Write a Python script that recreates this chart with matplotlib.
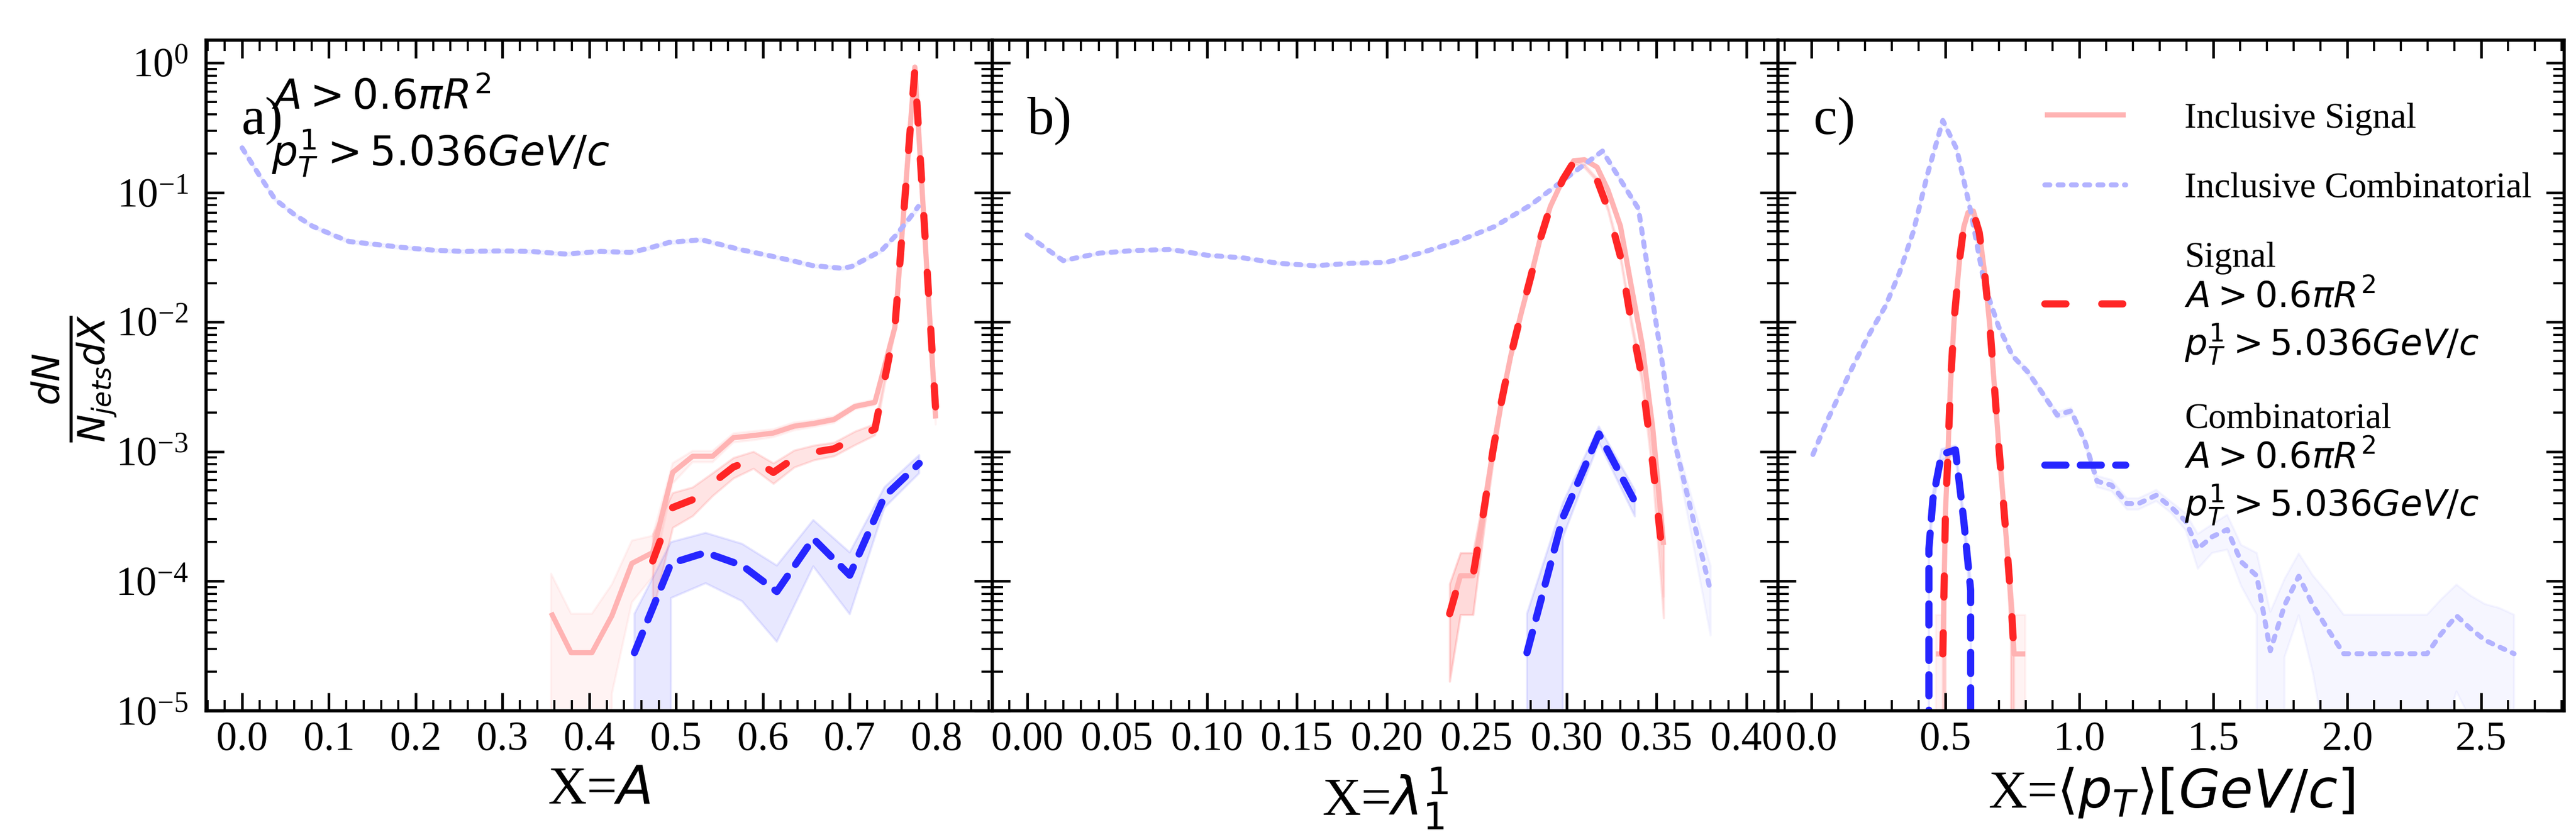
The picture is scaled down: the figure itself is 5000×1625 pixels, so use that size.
import numpy as np
import matplotlib
matplotlib.use("Agg")
import matplotlib.pyplot as plt
from matplotlib.ticker import MultipleLocator, FormatStrFormatter

plt.rcParams['font.family'] = ['Liberation Serif', 'DejaVu Serif']
plt.rcParams['mathtext.fontset'] = 'dejavusans'

nan = np.nan

# ---------------- panel a) X = A ----------------
a_x_sig = [0.356, 0.379, 0.403, 0.426, 0.449, 0.473, 0.496, 0.519, 0.542, 0.566,
           0.589, 0.612, 0.636, 0.659, 0.682, 0.706, 0.729, 0.752, 0.775, 0.799]
a_inc_sig = [5.7e-5, 2.8e-5, 2.8e-5, 5.4e-5, 1.37e-4, 1.66e-4, 6.9e-4, 9.2e-4, 9.2e-4, 1.28e-3,
             1.33e-3, 1.39e-3, 1.57e-3, 1.65e-3, 1.77e-3, 2.23e-3, 2.4e-3, 9.1e-3, 0.93, 1.8e-3]
a_inc_sig_err = [1.0, 1.0, 1.0, 0.75, 0.5, 0.35, 0.18, 0.1, 0.1, 0.08,
                 0.08, 0.07, 0.07, 0.06, 0.06, 0.05, 0.05, 0.04, 0.01, 0.1]
a_sig = [nan, nan, nan, nan, nan, 1.43e-4, 3.7e-4, 4.25e-4, 5.7e-4, 7.6e-4,
         8.7e-4, 6.9e-4, 8.9e-4, 9.9e-4, 1.05e-3, 1.28e-3, 1.49e-3, 9.1e-3, 0.89, 2.1e-3]
a_sig_err = [nan, nan, nan, nan, nan, 0.6, 0.3, 0.25, 0.2, 0.18,
             0.15, 0.18, 0.15, 0.13, 0.12, 0.12, 0.1, 0.05, 0.01, 0.08]
a_x_comb = [0.452, 0.494, 0.534, 0.576, 0.616, 0.658, 0.700, 0.740, 0.780]
a_comb = [2.8e-5, 1.37e-4, 1.66e-4, 1.32e-4, 8.3e-5, 2.13e-4, 1.11e-4, 4.5e-4, 8.1e-4]
a_comb_err = [1.0, 0.46, 0.42, 0.47, 0.59, 0.39, 0.5, 0.18, 0.16]
a_x_inc_comb = [0.0, 0.021, 0.038, 0.061, 0.081, 0.106, 0.123, 0.150, 0.186, 0.220,
                0.254, 0.299, 0.333, 0.373, 0.413, 0.447, 0.464, 0.492, 0.529, 0.549,
                0.572, 0.606, 0.637, 0.657, 0.691, 0.702, 0.719, 0.736, 0.753, 0.768, 0.779]
a_inc_comb = [0.221, 0.132, 0.0885, 0.067, 0.055, 0.0466, 0.0419, 0.040, 0.0376, 0.0359,
              0.0351, 0.0354, 0.0351, 0.0335, 0.0351, 0.0345, 0.0365, 0.0412, 0.0432, 0.040,
              0.0365, 0.0327, 0.0294, 0.0273, 0.026, 0.0268, 0.0308, 0.0354, 0.0466, 0.0622, 0.078]
a_inc_comb_err = [0.05] + [0.03] * 29 + [0.06]

# ---------------- panel b) X = lambda_1^1 ----------------
b_x_sig = [0.235, 0.241, 0.248, 0.254, 0.259, 0.264, 0.269, 0.275, 0.280, 0.285, 0.291,
           0.298, 0.304, 0.310, 0.317, 0.323, 0.330, 0.336, 0.342, 0.348, 0.354]
b_inc_sig = [5.6e-5, 1.1e-4, 1.1e-4, 3.5e-4, 1.0e-3, 2.5e-3, 5.5e-3, 1.2e-2, 2.2e-2, 4.2e-2, 7.8e-2,
             0.126, 0.176, 0.179, 0.157, 0.105, 0.055, 0.019, 6.8e-3, 1.5e-3, 1.9e-4]
b_sig = [5.6e-5, 1.1e-4, 1.1e-4, 3.5e-4, 1.0e-3, 2.5e-3, 5.5e-3, 1.2e-2, 2.2e-2, 4.2e-2, 7.8e-2,
         0.126, 0.172, 0.16, 0.125, 0.075, 0.032, 0.010, 3.7e-3, 8e-4, 1.3e-4]
b_sig_err = [0.7, 0.5, 0.5, 0.3, 0.2, 0.12, 0.08, 0.06, 0.05, 0.04, 0.03,
             0.03, 0.03, 0.03, 0.03, 0.04, 0.05, 0.07, 0.1, 0.2, 0.6]
b_x_comb = [0.278, 0.298, 0.318, 0.338]
b_comb = [2.8e-5, 3.1e-4, 1.37e-3, 4.1e-4]
b_comb_err = [1.0, 0.3, 0.14, 0.23]
b_x_inc_comb = [0.00, 0.02, 0.04, 0.06, 0.08, 0.10, 0.12, 0.14, 0.16, 0.18,
                0.20, 0.22, 0.24, 0.26, 0.28, 0.30, 0.32, 0.34, 0.36, 0.38]
b_inc_comb = [0.047, 0.0298, 0.034, 0.0357, 0.0363, 0.0328, 0.0313, 0.0284, 0.0272, 0.0284,
              0.0289, 0.0345, 0.0423, 0.0546, 0.080, 0.13, 0.209, 0.075, 1.2e-3, 8.5e-5]
b_inc_comb_err = [0.02] * 17 + [0.04, 0.1, 0.55]

# ---------------- panel c) X = <pT> ----------------
c_x_sig = [0.464, 0.490, 0.500, 0.508, 0.518, 0.532, 0.553, 0.568, 0.584, 0.604,
           0.626, 0.646, 0.667, 0.683, 0.699, 0.714, 0.730, 0.745, 0.756, 0.798]
c_inc_sig = [2.74e-5, 2.74e-5, 3.5e-4, 8.3e-4, 3.1e-3, 0.0103, 0.031, 0.054, 0.070, 0.072,
             0.050, 0.024, 8.6e-3, 3.1e-3, 1.1e-3, 4.6e-4, 1.77e-4, 6.8e-5, 2.74e-5, 2.74e-5]
c_sig = [nan, 2.74e-5, 3.5e-4, 8.3e-4, 3.1e-3, 0.0103, 0.031, 0.054, 0.068, 0.070,
         0.049, 0.024, 8.6e-3, 3.1e-3, 1.1e-3, 4.6e-4, 1.77e-4, 6.8e-5, 2.74e-5, nan]
c_sig_err = [1.0, 1.0, 0.3, 0.2, 0.1, 0.06, 0.04, 0.03, 0.03, 0.03,
             0.03, 0.03, 0.04, 0.06, 0.1, 0.15, 0.25, 0.5, 1.0, 1.0]
c_x_comb = [0.432, 0.438, 0.453, 0.485, 0.537, 0.568, 0.594, 0.601]
c_comb = [0.0, 1.77e-4, 4.3e-4, 9.5e-4, 1.03e-3, 2.95e-4, 8.5e-5, 0.0]
c_comb_err = [0.0, 0.15, 0.12, 0.1, 0.08, 0.12, 0.2, 0.0]
c_x_inc_comb = [0.005, 0.057, 0.115, 0.167, 0.219, 0.276, 0.328, 0.380, 0.433, 0.490,
                0.542, 0.594, 0.646, 0.698, 0.750, 0.808, 0.860, 0.917, 0.969, 1.021,
                1.066, 1.120, 1.178, 1.220, 1.287, 1.344, 1.397, 1.442, 1.496, 1.552,
                1.604, 1.662, 1.713, 1.766, 1.819, 1.872, 1.929, 1.987, 2.040, 2.090,
                2.140, 2.195, 2.245, 2.298, 2.350, 2.408, 2.460, 2.514, 2.568, 2.623]
c_inc_comb = [9.5e-4, 1.71e-3, 3.08e-3, 5.15e-3, 8.3e-3, 1.33e-2, 2.4e-2, 5.0e-2, 0.139, 0.36,
              0.216, 0.072, 0.0192, 9.25e-3, 5.5e-3, 4.1e-3, 2.86e-3, 1.91e-3, 2.06e-3, 1.19e-3,
              5.9e-4, 5.5e-4, 3.96e-4, 3.96e-4, 4.6e-4, 3.7e-4, 2.9e-4, 1.78e-4, 2.2e-4, 2.5e-4,
              1.41e-4, 1.1e-4, 2.9e-5, 6.5e-5, 1.09e-4, 6.5e-5, 4.2e-5, 2.75e-5, 2.75e-5, 2.75e-5,
              2.75e-5, 2.75e-5, 2.75e-5, 2.75e-5, 3.9e-5, 5.4e-5, 4.3e-5, 3.5e-5, 3.1e-5, 2.75e-5]
c_inc_comb_err = [0.03] * 15 + [0.06] * 5 + [0.1] * 6 + [0.15, 0.3, 0.25, 0.3,
                  0.35, 0.5, 1.0, 0.6, 0.5, 0.7, 0.9, 1.0, 1.0, 1.0,
                  1.0, 1.0, 1.0, 1.0, 0.85, 0.74, 0.8, 0.9, 1.0, 1.0]

cut_a = '$A > 0.6\\pi R^2$'
cut_p = '$p_T^1 > 5.036GeV/c$'
labels = ['Inclusive Signal', 'Inclusive Combinatorial',
          'Signal\n' + cut_a + '\n' + cut_p, 'Combinatorial\n' + cut_a + '\n' + cut_p]
xlabels = ['X=$A$', 'X=$\\lambda_1^1$', 'X=$\\langle p_T\\rangle [GeV/c]$']
letters = ['a)', 'b)', 'c)']
xlims = [(-0.0415, 0.864), (-0.0195, 0.4177), (-0.125, 2.81)]
majors = [0.1, 0.05, 0.5]
minors = [0.02, 0.01, 0.1]
fmts = ['%.1f', '%.2f', '%.1f']

RED = '#ff2626'
BLUE = '#2626ff'
PINK = '#ffb3b3'
LBLUE = '#b3b3ff'


def draw(ax, x, y, rel, band, alpha, color, **kw):
    x = np.asarray(x, float)
    y = np.asarray(y, float)
    r = np.asarray(rel, float)
    ax.fill_between(x, y * (1 - r), y * (1 + r), color=band, alpha=alpha, lw=1.2)
    return ax.plot(x, y, color=color, **kw)[0]


panels = [
    (a_x_sig, a_inc_sig, a_inc_sig_err, a_sig, a_sig_err, a_x_comb, a_comb, a_comb_err,
     a_x_inc_comb, a_inc_comb, a_inc_comb_err),
    (b_x_sig, b_inc_sig, b_sig_err, b_sig, b_sig_err, b_x_comb, b_comb, b_comb_err,
     b_x_inc_comb, b_inc_comb, b_inc_comb_err),
    (c_x_sig, c_inc_sig, c_sig_err, c_sig, c_sig_err, c_x_comb, c_comb, c_comb_err,
     c_x_inc_comb, c_inc_comb, c_inc_comb_err),
]

fig, axes = plt.subplots(1, 3, figsize=(20, 6.5), dpi=250, sharey=True)
fig.subplots_adjust(left=0.08, right=0.9954, top=0.952, bottom=0.151, wspace=0)

for i, ax in enumerate(axes):
    xs, inc_sig, inc_sig_err, sig, sig_err, xc, comb, comb_err, xic, inc_comb, inc_comb_err = panels[i]
    h1 = draw(ax, xs, inc_sig, inc_sig_err, RED, 0.05, PINK, lw=2.9, solid_capstyle='butt')
    h2 = draw(ax, xic, inc_comb, inc_comb_err, BLUE, 0.04, LBLUE, lw=2.8,
              dashes=(1.0, 1.65), dash_capstyle='round')
    h3 = draw(ax, xs, sig, sig_err, RED, 0.12, RED, lw=4.0,
              dashes=(2.95, 5.0), dash_capstyle='round')
    h4 = draw(ax, xc, comb, comb_err, BLUE, 0.1, BLUE, lw=4.0,
              dashes=(2.95, 2.0), dash_capstyle='round')

    ax.set_yscale('log')
    ax.set_ylim(1e-5, 1.5)
    ax.set_xlim(*xlims[i])
    ax.xaxis.set_major_locator(MultipleLocator(majors[i]))
    ax.xaxis.set_minor_locator(MultipleLocator(minors[i]))
    ax.xaxis.set_major_formatter(FormatStrFormatter(fmts[i]))
    ax.tick_params(which='both', direction='in', top=True, right=True, labelsize=23)
    ax.tick_params(axis='x', pad=6)
    ax.tick_params(axis='y', pad=10)
    ax.tick_params(which='major', length=10, width=1.5)
    ax.tick_params(which='minor', length=6, width=1.2)
    for s in ax.spines.values():
        s.set_linewidth(1.8)
    ax.set_xlabel(xlabels[i], fontsize=30, labelpad=4)
    ax.text(0.045, 0.86, letters[i], transform=ax.transAxes, fontsize=30)

    if i == 2:
        ax.legend([h1, h2, h3, h4], labels, loc='upper right', frameon=False,
                  fontsize=20, handlelength=2.26, handletextpad=1.65,
                  labelspacing=1.03, bbox_to_anchor=(1.0, 0.955))

axes[0].text(0.083, 0.897, cut_a, transform=axes[0].transAxes, fontsize=23)
axes[0].text(0.083, 0.813, cut_p, transform=axes[0].transAxes, fontsize=23)
fig.text(0.029, 0.548, '$\\frac{dN}{N_{jets}dX}$', rotation=90, ha='center', va='center',
         fontsize=30)

fig.savefig('out.png', dpi=250)
